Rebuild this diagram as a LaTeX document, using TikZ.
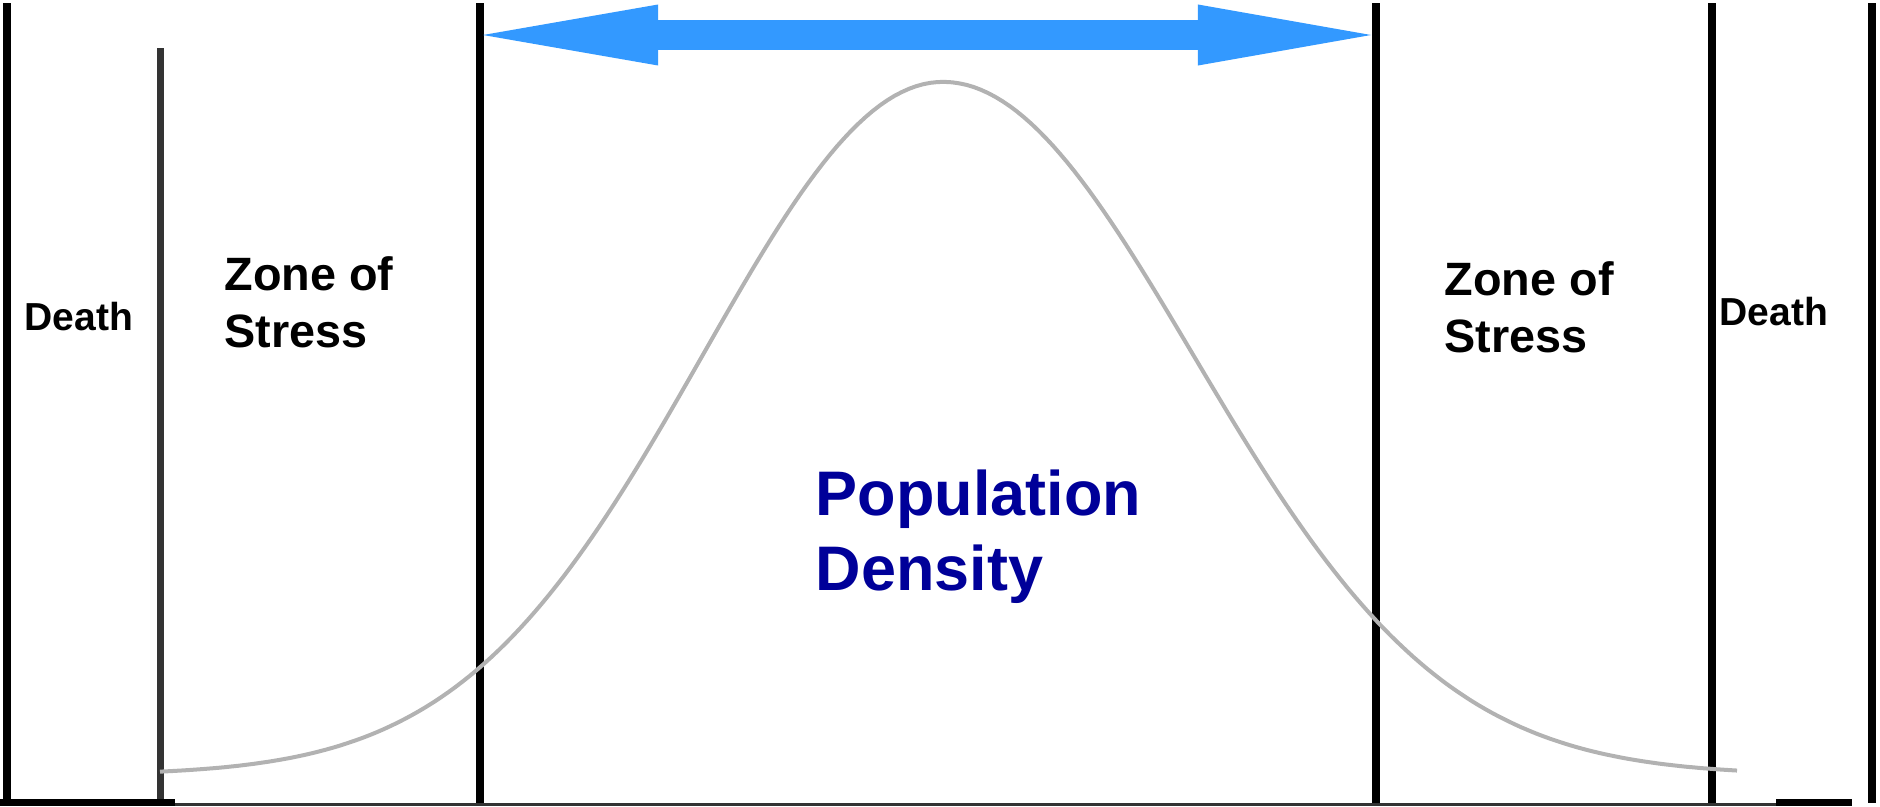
\documentclass[tikz,border=0pt]{standalone}
\usepackage{fontspec}
\setmainfont{Liberation Sans}
\usepackage{tikz}
\usetikzlibrary{arrows.meta}
\definecolor{arrowblue}{RGB}{51, 153, 255}
\definecolor{popblue}{RGB}{0, 0, 153}
\definecolor{darkwall}{RGB}{51, 51, 51}

\begin{document}
\begin{tikzpicture}[x=0.01cm, y=-0.01cm,
    wall/.style={line width=0.08cm},
    lbl/.style={inner sep=0, align=left, anchor=base west, font=\bfseries}]
  \useasboundingbox (0,0) rectangle (1880,806);
  % Boundaries
  \draw[wall] (7,3) -- (7,799);
  \draw[line width=0.07cm, darkwall] (160.5,48) -- (160.5,803);
  \foreach \x in {480, 1376, 1712, 1872} {
    \draw[wall] (\x,3) -- (\x,803);
  }
  % Ground
  \draw[line width=0.07cm] (0,802.5) -- (175,802.5);
  \draw[line width=0.03cm, darkwall] (175,804.5) -- (1776,804.5);
  \draw[line width=0.07cm] (1776,802.5) -- (1852,802.5);
  % Bell curve
  \draw[gray!60, line width=0.04cm] plot[domain=160:1737, samples=220]
    (\x, {775 - 693*exp(-((\x-943)/100)^2/(\x<943 ? 11.52 : 12.5))});
  % Range arrow
  \coordinate (tipL) at (483,35);
  \coordinate (tipR) at (1371,35);
  \draw[arrowblue, line width=0.3cm,
        {Triangle[length=1.75cm, width=0.61cm, line width=0pt]}-{Triangle[length=1.73cm, width=0.61cm, line width=0pt]}]
    (tipL) -- (tipR);
  % Labels
  \node[lbl, font=\bfseries\fontsize{11.1}{13}\selectfont] (deathL) at (24,330) {Death};
  \node[lbl, font=\bfseries\fontsize{13.3}{16.2}\selectfont] (stressL) at (224,347) {Zone of\\Stress};
  \node[lbl, font=\bfseries\fontsize{13.3}{16.2}\selectfont] (stressR) at (1444,352) {Zone of\\Stress};
  \node[lbl, font=\bfseries\fontsize{11.1}{13}\selectfont] (deathR) at (1719,325) {Death};
  \node[lbl, popblue, font=\bfseries\fontsize{17.9}{21.3}\selectfont] (pop) at (815,590) {Population\\Density};
\end{tikzpicture}
\end{document}
